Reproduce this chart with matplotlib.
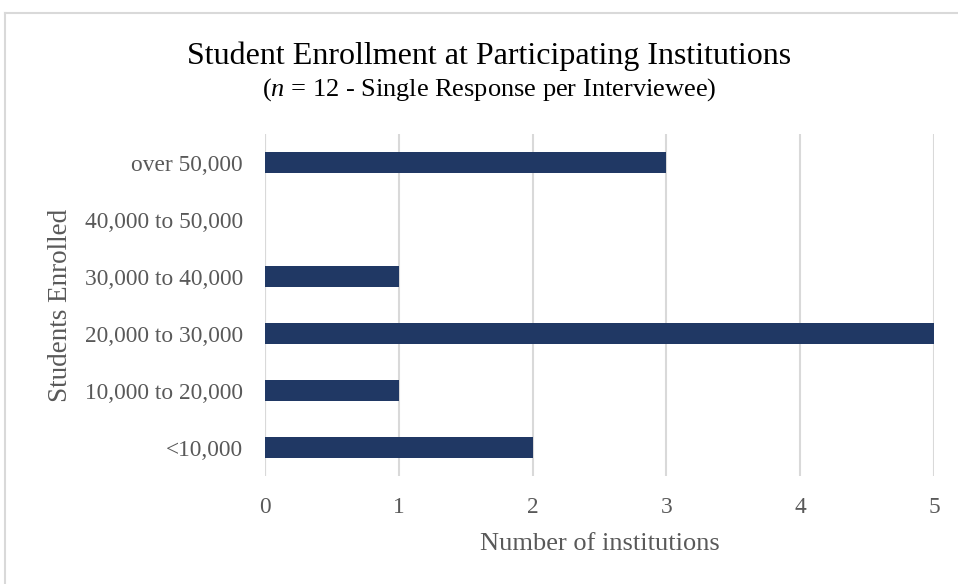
import matplotlib
matplotlib.use("Agg")
import matplotlib.pyplot as plt
from matplotlib.lines import Line2D

plt.rcParams['font.family'] = ['Liberation Serif', 'DejaVu Serif']
plt.rcParams['mathtext.fontset'] = 'custom'
plt.rcParams['mathtext.rm'] = 'Liberation Serif'
plt.rcParams['mathtext.it'] = 'Liberation Serif:italic'

# data (bottom to top)
categories = ['<10,000', '10,000 to 20,000', '20,000 to 30,000',
              '30,000 to 40,000', '40,000 to 50,000', 'over 50,000']
counts = [2, 1, 5, 1, 0, 3]
xticks = [0, 1, 2, 3, 4, 5]

bar_color = '#203864'
grid_color = '#d9d9d9'
text_color = '#595959'

fig = plt.figure(figsize=(9.58, 5.84), dpi=100)
ax = fig.add_axes([0.2766, 0.1849, 0.6983, 0.5856])

ax.barh(range(len(categories)), counts, height=0.36, color=bar_color,
        edgecolor='none', zorder=3)

ax.set_xlim(0, 5)
ax.set_ylim(-0.5, len(categories) - 0.5)
ax.set_xticks(xticks)
ax.set_yticks(range(len(categories)))
ax.set_yticklabels(categories)
ax.grid(axis='x', color=grid_color, linewidth=1.5, zorder=0)
ax.axvline(0, color=grid_color, linewidth=1.5, zorder=1)
for s in ax.spines.values():
    s.set_visible(False)
ax.tick_params(length=0, labelsize=16.8, colors=text_color)
ax.tick_params(axis='y', pad=16)
ax.tick_params(axis='x', pad=15)

ax.set_xlabel('Number of institutions', fontsize=19, color=text_color, labelpad=11)
ax.set_ylabel('Students Enrolled', fontsize=19.5, color=text_color, labelpad=8)

fig.text(0.511, 0.903, 'Student Enrollment at Participating Institutions',
         ha='center', va='center', fontsize=23, color='black')
fig.text(0.511, 0.847, r'($n$ = 12 - Single Response per Interviewee)',
         ha='center', va='center', fontsize=19, color='black')

# chart border (top and left visible)
top = 1 - 13 / 584
left = 5 / 958
fig.add_artist(Line2D([left, 1], [top, top], color=grid_color, linewidth=1.5,
                      transform=fig.transFigure))
fig.add_artist(Line2D([left, left], [0, top], color=grid_color, linewidth=1.5,
                      transform=fig.transFigure))

fig.savefig('out.png', dpi=100, facecolor='white')
